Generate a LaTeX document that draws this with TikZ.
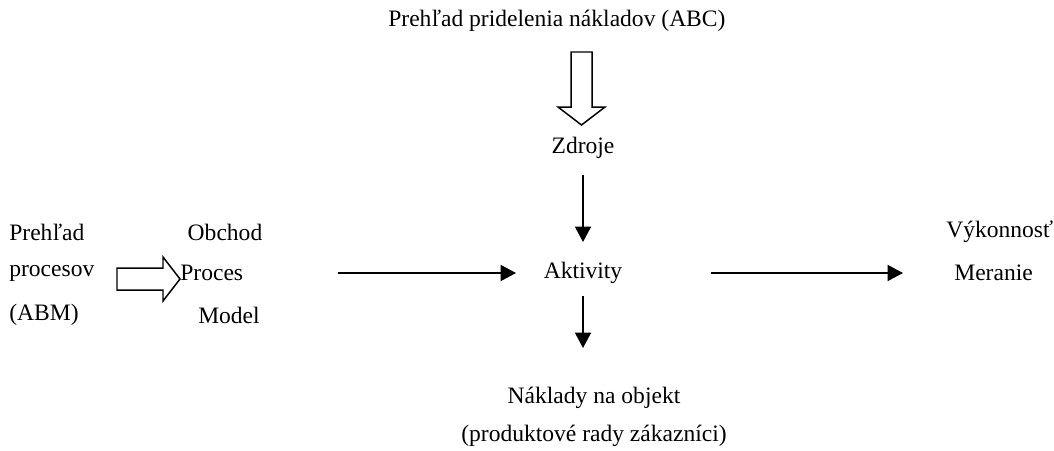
\documentclass[tikz,border=0pt]{standalone}
\usepackage{fontspec}
\setmainfont{Liberation Serif}
\usetikzlibrary{arrows.meta,calc}
\tikzset{
  label/.style={inner sep=0pt,align=center},
  flowarrow/.style={-{Triangle[length=0.31cm,width=0.32cm]},
    line width=1.15pt,draw=black},
  hollowarrow/.style={draw=black,line width=0.85pt,fill=white,line join=miter},
}
\begin{document}
\begin{tikzpicture}[x=0.02cm,y=-0.02cm,font=\fontsize{13.4}{16}\selectfont]
  \useasboundingbox (0,0) rectangle (1054,450);
  % top: ABC view
  \node[label,anchor=west] (abc) at (388,21) {Prehľad pridelenia nákladov (ABC)};
  \draw[hollowarrow] (571,52) -- (592,52) -- (592,107) -- (605,107) -- (581.5,125)
    -- (558,107) -- (571,107) -- cycle;
  \node[label] (zdroje) at (583,148) {Zdroje};
  % middle row
  \node[label] (akt) at (583,273) {Aktivity};
  \node[label,anchor=west] (prehlad) at (9,232) {Prehľad};
  \node[label,anchor=west] (procesov) at (9,273) {procesov};
  \node[label,anchor=west] (abm) at (9,315) {(ABM)};
  \draw[hollowarrow] (117,268) -- (163,268) -- (163,257) -- (180,279) -- (163,301)
    -- (163,290) -- (117,290) -- cycle;
  \node[label] (obchod) at (225,232) {Obchod};
  \node[label,anchor=west] (proces) at (180,273) {Proces};
  \node[label] (model) at (229,315) {Model};
  \node[label,anchor=west] (vykon) at (946,232) {Výkonnosť};
  \node[label,anchor=west] (meranie) at (954,273) {Meranie};
  % bottom: cost objects
  \node[label] (naklady) at (594,398) {Náklady na objekt};
  \node[label] (produkty) at (594,436) {(produktové rady zákazníci)};
  % connectors
  \draw[flowarrow,shorten <=0.54cm,shorten >=0.62cm] (zdroje.center) -- (akt.center);
  \draw[flowarrow,shorten <=0.46cm,shorten >=1cm] (akt.center) -- (akt.center |- naklady.center);
  \draw[flowarrow,shorten <=3.16cm,shorten >=1.34cm] (proces.west |- akt.center) -- (akt.center);
  \draw[flowarrow,shorten <=2.56cm,shorten >=1.02cm] (akt.center) -- (meranie.west |- akt.center);
\end{tikzpicture}
\end{document}
